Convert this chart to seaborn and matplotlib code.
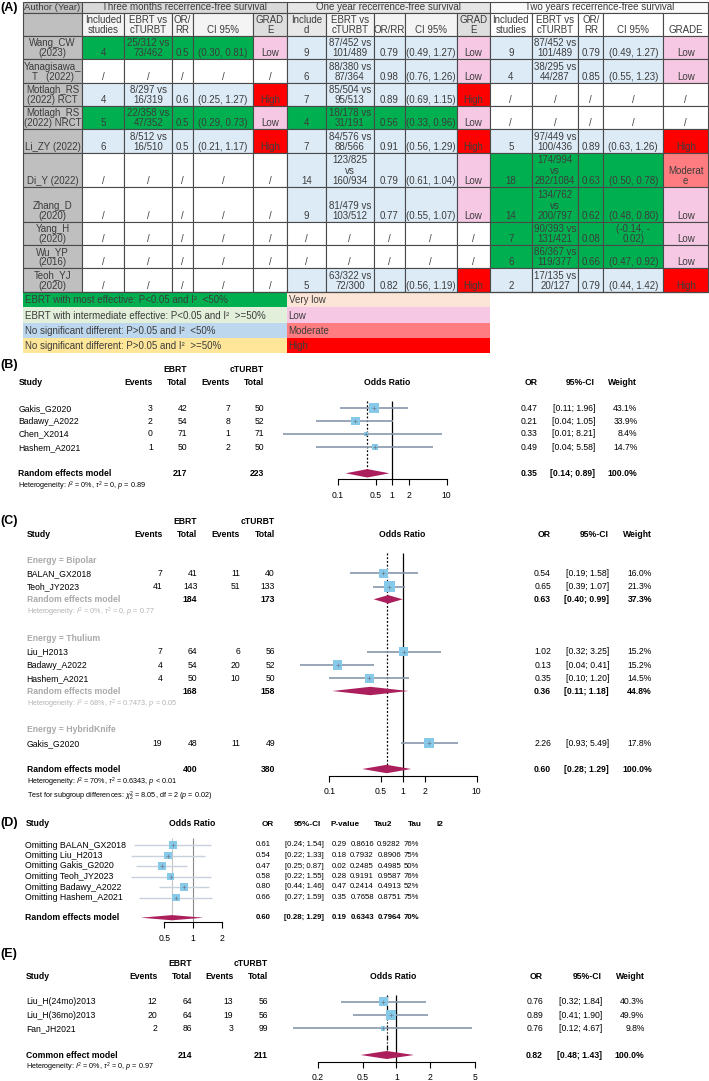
import numpy as np
import matplotlib
matplotlib.use("Agg")
import matplotlib.pyplot as plt
from matplotlib.patches import Rectangle
from matplotlib.ticker import FixedLocator, FixedFormatter, NullLocator
import seaborn as sns
import pandas as pd

# ======================= DATA : table (A) =======================
authors = ["Wang_CW\n(2023)", "Yanagisawa_\nT   (2022)", "Motlagh_RS\n(2022) RCT",
           "Motlagh_RS\n(2022) NRCT", "Li_ZY (2022)", "Di_Y (2022)", "Zhang_D\n(2020)",
           "Yang_H\n(2020)", "Wu_YP\n(2016)", "Teoh_YJ\n(2020)"]
periods = ["Three months recerrence-free survival", "One year recerrence-free survival",
           "Two years recerrence-free survival"]

m3_n = ["4", "/", "4", "5", "6", "/", "/", "/", "/", "/"]
m3_ev = ["25/312 vs\n73/462", "/", "8/297 vs\n16/319", "22/358 vs\n47/352", "8/512 vs\n16/510",
         "/", "/", "/", "/", "/"]
m3_or = ["0.5", "/", "0.6", "0.5", "0.5", "/", "/", "/", "/", "/"]
m3_ci = ["(0.30, 0.81)", "/", "(0.25, 1.27)", "(0.29, 0.73)", "(0.21, 1.17)", "/", "/", "/", "/", "/"]
m3_grade = ["Low", "/", "High", "Low", "High", "/", "/", "/", "/", "/"]
m3_cls = ["G", "W", "B", "G", "B", "W", "W", "W", "W", "W"]

y1_n = ["9", "6", "7", "4", "7", "14", "9", "/", "/", "5"]
y1_ev = ["87/452 vs\n101/489", "88/380 vs\n87/364", "85/504 vs\n95/513", "18/178 vs\n31/191",
         "84/576 vs\n88/566", "123/825\nvs\n160/934", "81/479 vs\n103/512", "/", "/", "63/322 vs\n72/300"]
y1_or = ["0.79", "0.98", "0.89", "0.56", "0.91", "0.79", "0.77", "/", "/", "0.82"]
y1_ci = ["(0.49, 1.27)", "(0.76, 1.26)", "(0.69, 1.15)", "(0.33, 0.96)", "(0.56, 1.29)",
         "(0.61, 1.04)", "(0.55, 1.07)", "/", "/", "(0.56, 1.19)"]
y1_grade = ["Low", "Low", "High", "Low", "High", "Low", "Low", "/", "/", "High"]
y1_cls = ["B", "B", "B", "G", "B", "B", "B", "W", "W", "B"]

y2_n = ["9", "4", "/", "/", "5", "18", "14", "7", "6", "2"]
y2_ev = ["87/452 vs\n101/489", "38/295 vs\n44/287", "/", "/", "97/449 vs\n100/436",
         "174/994\nvs\n282/1084", "134/762\nvs\n200/797", "90/393 vs\n131/421", "86/367 vs\n119/377",
         "17/135 vs\n20/127"]
y2_or = ["0.79", "0.85", "/", "/", "0.89", "0.63", "0.62", "0.08", "0.66", "0.79"]
y2_ci = ["(0.49, 1.27)", "(0.55, 1.23)", "/", "/", "(0.63, 1.26)", "(0.50, 0.78)", "(0.48, 0.80)",
         "(-0.14, -\n0.02)", "(0.47, 0.92)", "(0.44, 1.42)"]
y2_grade = ["Low", "Low", "/", "/", "High", "Moderat\ne", "Low", "Low", "Low", "High"]
y2_cls = ["B", "B", "W", "W", "B", "G", "G", "G", "G", "B"]

legend_left = ["EBRT with most effective: P<0.05 and I²  <50%",
               "EBRT with intermediate effective: P<0.05 and I²  >=50%",
               "No significant different: P>0.05 and I²  <50%",
               "No significant different: P>0.05 and I²  >=50%"]
legend_right = ["Very low", "Low", "Moderate", "High"]

# ======================= DATA : forest (B) =======================
b_study = ["Gakis_G2020", "Badawy_A2022", "Chen_X2014", "Hashem_A2021"]
b_ev_e = [3, 2, 0, 1]
b_tot_e = [42, 54, 71, 50]
b_ev_c = [7, 8, 1, 2]
b_tot_c = [50, 52, 71, 50]
b_or = [0.47, 0.21, 0.33, 0.49]
b_lo = [0.11, 0.04, 0.01, 0.04]
b_hi = [1.96, 1.05, 8.21, 5.58]
b_w = [43.1, 33.9, 8.4, 14.7]
b_pool = [0.35, 0.14, 0.89]
b_totals = [217, 223]
b_het = r"Heterogeneity: $I^2$ = 0%, $\tau^2$ = 0, $p$ = 0.89"

# ======================= DATA : forest (C) =======================
c_groups = ["Bipolar", "Thulium", "HybridKnife"]
c_group = ["Bipolar", "Bipolar", "Thulium", "Thulium", "Thulium", "HybridKnife"]
c_study = ["BALAN_GX2018", "Teoh_JY2023", "Liu_H2013", "Badawy_A2022", "Hashem_A2021", "Gakis_G2020"]
c_ev_e = [7, 41, 7, 4, 4, 19]
c_tot_e = [41, 143, 64, 54, 50, 48]
c_ev_c = [11, 51, 6, 20, 10, 11]
c_tot_c = [40, 133, 56, 52, 50, 49]
c_or = [0.54, 0.65, 1.02, 0.13, 0.35, 2.26]
c_lo = [0.19, 0.39, 0.32, 0.04, 0.10, 0.93]
c_hi = [1.58, 1.07, 3.25, 0.41, 1.20, 5.49]
c_w = [16.0, 21.3, 15.2, 15.2, 14.5, 17.8]
c_sub_or = [0.63, 0.36]
c_sub_lo = [0.40, 0.11]
c_sub_hi = [0.99, 1.18]
c_sub_w = [37.3, 44.8]
c_sub_tot_e = [184, 168]
c_sub_tot_c = [173, 158]
c_sub_het = [r"Heterogeneity: $I^2$ = 0%, $\tau^2$ = 0, $p$ = 0.77",
             r"Heterogeneity: $I^2$ = 68%, $\tau^2$ = 0.7473, $p$ = 0.05"]
c_pool = [0.60, 0.28, 1.29]
c_totals = [400, 380]
c_het = r"Heterogeneity: $I^2$ = 70%, $\tau^2$ = 0.6343, $p$ < 0.01"
c_test = r"Test for subgroup differences: $\chi^2_2$ = 8.05, df = 2 ($p$ = 0.02)"

# ======================= DATA : forest (D) =======================
d_study = ["Omitting BALAN_GX2018", "Omitting Liu_H2013", "Omitting Gakis_G2020",
           "Omitting Teoh_JY2023", "Omitting Badawy_A2022", "Omitting Hashem_A2021"]
d_or = [0.61, 0.54, 0.47, 0.58, 0.80, 0.66]
d_lo = [0.24, 0.22, 0.25, 0.22, 0.44, 0.27]
d_hi = [1.54, 1.33, 0.87, 1.55, 1.46, 1.59]
d_p = [0.29, 0.18, 0.02, 0.28, 0.47, 0.35]
d_tau2 = [0.8616, 0.7932, 0.2485, 0.9191, 0.2414, 0.7658]
d_tau = [0.9282, 0.8906, 0.4985, 0.9587, 0.4913, 0.8751]
d_i2 = [76, 75, 50, 76, 52, 75]
d_pool = [0.60, 0.28, 1.29, 0.19, 0.6343, 0.7964, 70]

# ======================= DATA : forest (E) =======================
e_study = ["Liu_H(24mo)2013", "Liu_H(36mo)2013", "Fan_JH2021"]
e_ev_e = [12, 20, 2]
e_tot_e = [64, 64, 86]
e_ev_c = [13, 19, 3]
e_tot_c = [56, 56, 99]
e_or = [0.76, 0.89, 0.76]
e_lo = [0.32, 0.41, 0.12]
e_hi = [1.84, 1.90, 4.67]
e_w = [40.3, 49.9, 9.8]
e_pool = [0.82, 0.48, 1.43]
e_totals = [214, 211]
e_het = r"Heterogeneity: $I^2$ = 0%, $\tau^2$ = 0, $p$ = 0.97"

# ======================= STYLE =======================
sns.set_theme(style="white")
plt.rcParams['font.family'] = ['Liberation Sans', 'DejaVu Sans']
plt.rcParams['mathtext.fontset'] = 'custom'
plt.rcParams['mathtext.rm'] = 'Liberation Sans'
plt.rcParams['mathtext.it'] = 'Liberation Sans:italic'
plt.rcParams['mathtext.bf'] = 'Liberation Sans:bold'

W, H = 709, 1081
fig = plt.figure(figsize=(W / 100, H / 100), dpi=100)
bg = fig.add_axes([0, 0, 1, 1])
bg.set_xlim(0, W)
bg.set_ylim(H, 0)
bg.axis('off')

TXT = '#3c3c3c'
EDGE = '#4a4a4a'
CLS = {"G": "#00b050", "B": "#ddebf7", "W": "white"}
GRC = {"Low": "#f6c8e4", "High": "#ff0000", "Moderat\ne": "#ff7c80", "/": "white"}
SQ = '#86c9e9'
CIL = '#8797ab'
DIA = '#ab1f5c'
FS = 6.2
HS = 5.2


def t(x, y, s, ha='left', va='center', size=FS, weight='normal', color='black', **kw):
    bg.text(x, y, s, ha=ha, va=va, fontsize=size, fontweight=weight, color=color, **kw)


def cell(x0, x1, y0, y1, text, fc, edge=True, size=7.0, ha='center'):
    bg.add_patch(Rectangle((x0, y0), x1 - x0, y1 - y0, facecolor=fc,
                           edgecolor=EDGE if edge else 'none', lw=0.8))
    if text:
        tx = (x0 + x1) / 2 if ha == 'center' else x0 + 1.5
        bg.text(tx, y1 - 1.0, text, ha=ha, va='bottom', multialignment='center',
                fontsize=size, color=TXT, linespacing=1.02)


# ======================= TABLE (A) =======================
cx = [22.7, 82.3, 124.3, 172, 192.7, 253.3, 286.7, 325.7, 374, 405, 456.7, 490,
      531.7, 578.3, 603.3, 663.3, 708.3]
ry = [1.7, 12.7, 36, 59.3, 82.7, 106, 129.3, 152.7, 186.7, 221.7, 245, 268.3, 291.7]
ly = [291.7, 307.3, 323.3, 337.7, 353.3]

# header row 1
cell(cx[0], cx[1], ry[0], ry[1], "Author (Year)", '#bfbfbf', size=6.8)
cell(cx[1], cx[6], ry[0], ry[1], periods[0], '#d9d9d9')
cell(cx[6], cx[11], ry[0], ry[1], periods[1], '#e6e6e6')
cell(cx[11], cx[16], ry[0], ry[1], periods[2], '#fafafa')
# header row 2
sub_h = [["Included\nstudies", "EBRT vs\ncTURBT", "OR/\nRR", "CI 95%", "GRAD\nE"],
         ["Include\nd", "EBRT vs\ncTURBT", "OR/RR", "CI 95%", "GRAD\nE"],
         ["Included\nstudies", "EBRT vs\ncTURBT", "OR/\nRR", "CI 95%", "GRADE"]]
sub_c = [['#f4f4f4', '#f4f4f4', '#f4f4f4', '#f4f4f4', '#dedede'],
         ['#e8e8e8', '#f4f4f4', '#f4f4f4', '#f4f4f4', '#dedede'],
         ['white', 'white', 'white', 'white', 'white']]
cell(cx[0], cx[1], ry[1], ry[2], "", '#bfbfbf')
for p in range(3):
    for k in range(5):
        ci = 1 + p * 5 + k
        cell(cx[ci], cx[ci + 1], ry[1], ry[2], sub_h[p][k], sub_c[p][k])

blocks = [(m3_n, m3_ev, m3_or, m3_ci, m3_grade, m3_cls),
          (y1_n, y1_ev, y1_or, y1_ci, y1_grade, y1_cls),
          (y2_n, y2_ev, y2_or, y2_ci, y2_grade, y2_cls)]
for r in range(len(authors)):
    y0, y1 = ry[r + 2], ry[r + 3]
    cell(cx[0], cx[1], y0, y1, authors[r], '#bfbfbf')
    for p, (nn, ev, orr, cci, gr, cl) in enumerate(blocks):
        base = 1 + p * 5
        fc = CLS[cl[r]]
        vals = [nn[r], ev[r], orr[r], cci[r]]
        for k in range(4):
            cell(cx[base + k], cx[base + k + 1], y0, y1, vals[k], fc)
        cell(cx[base + 4], cx[base + 5], y0, y1, gr[r], GRC[gr[r]])

left_cols = ['#00b050', '#e2efda', '#bdd7ee', '#ffe699']
right_cols = ['#fce4d6', '#f6c8e4', '#ff7c80', '#ff0000']
for i in range(4):
    bg.add_patch(Rectangle((cx[0], ly[i]), cx[6] - cx[0], ly[i + 1] - ly[i], facecolor=left_cols[i], lw=0))
    bg.add_patch(Rectangle((cx[6], ly[i]), cx[11] - cx[6], ly[i + 1] - ly[i], facecolor=right_cols[i], lw=0))
    ym = (ly[i] + ly[i + 1]) / 2
    t(cx[0] + 2, ym + 0.5, legend_left[i], size=7.0, color=TXT)
    t(cx[6] + 2, ym + 0.5, legend_right[i], size=7.0, color=TXT)
bg.plot([cx[0], cx[16]], [ry[-1], ry[-1]], color=EDGE, lw=0.9)

# panel labels
for lab, yy in [("(A)", 8.5), ("(B)", 365), ("(C)", 520.7), ("(D)", 823.3), ("(E)", 954.3)]:
    t(0.5, yy, lab, size=9, weight='bold')


# ======================= forest helpers =======================
def forest_ax(x1, ppd, lo, hi, ytop, axis_y, ticks, labels):
    left = x1 + ppd * np.log10(lo)
    right = x1 + ppd * np.log10(hi)
    ybot = axis_y + 1
    ax = fig.add_axes([left / W, 1 - ybot / H, (right - left) / W, (ybot - ytop) / H])
    ax.set_xscale('log')
    ax.set_xlim(lo, hi)
    ax.set_ylim(ybot, ytop)
    ax.patch.set_visible(False)
    for s in ['top', 'left', 'right']:
        ax.spines[s].set_visible(False)
    sp = ax.spines['bottom']
    sp.set_position(('data', axis_y))
    sp.set_bounds(ticks[0], ticks[-1])
    sp.set_linewidth(0.8)
    sp.set_color('black')
    ax.xaxis.set_major_locator(FixedLocator(ticks))
    ax.xaxis.set_major_formatter(FixedFormatter(labels))
    ax.xaxis.set_minor_locator(NullLocator())
    ax.tick_params(axis='x', direction='out', length=4, width=0.8, pad=4.2,
                   labelsize=FS, colors='black', bottom=True)
    ax.set_yticks([])
    return ax


def draw_studies(ax, ors, los, his, ys, sides_px, line_col=CIL, lw=1.2):
    ax.hlines(ys, los, his, color=line_col, lw=lw, zorder=2, clip_on=False)
    df = pd.DataFrame({"OR": ors, "row": ys})
    sizes = (np.asarray(sides_px) * 0.72) ** 2
    sns.scatterplot(data=df, x="OR", y="row", s=sizes, marker='s', color=SQ, linewidth=0,
                    ax=ax, legend=False, zorder=3, clip_on=False)
    ax.scatter(ors, ys, marker='+', s=5, c='#6d7d92', linewidths=0.5, zorder=4, clip_on=False)
    ax.set_xlabel('')
    ax.set_ylabel('')


def diamond(ax, est, lo, hi, y, h):
    ax.fill([lo, est, hi, est], [y, y - h, y, y + h], color=DIA, lw=0, zorder=3, clip_on=False)


def ci_str(lo, hi):
    return f"[{lo:.2f}; {hi:.2f}]"


# ======================= (B) =======================
bx = dict(study=18.3, ev_e=152.7, tot_e=187.3, ev_c=230, tot_c=264, orr=537.3, ci=595, w=637.3)
b_y = [408.3, 421, 434, 447.3]
t(bx['tot_e'], 369.3, "EBRT", ha='right', weight='bold')
t(bx['tot_c'], 369.3, "cTURBT", ha='right', weight='bold')
t(bx['study'], 382.7, "Study", weight='bold')
for k, lab in [('ev_e', 'Events'), ('tot_e', 'Total'), ('ev_c', 'Events'), ('tot_c', 'Total'),
               ('orr', 'OR'), ('ci', '95%-CI'), ('w', 'Weight')]:
    t(bx[k], 382.7, lab, ha='right', weight='bold')
t(386.7, 382.7, "Odds Ratio", ha='center', weight='bold')
for i in range(len(b_study)):
    y = b_y[i]
    t(bx['study'], y, b_study[i])
    t(bx['ev_e'], y, str(b_ev_e[i]), ha='right')
    t(bx['tot_e'], y, str(b_tot_e[i]), ha='right')
    t(bx['ev_c'], y, str(b_ev_c[i]), ha='right')
    t(bx['tot_c'], y, str(b_tot_c[i]), ha='right')
    t(bx['orr'], y, f"{b_or[i]:.2f}", ha='right')
    t(bx['ci'], y, ci_str(b_lo[i], b_hi[i]), ha='right')
    t(bx['w'], y, f"{b_w[i]:.1f}%", ha='right')
t(bx['study'], 473.3, "Random effects model", weight='bold')
t(bx['tot_e'], 473.3, str(b_totals[0]), ha='right', weight='bold')
t(bx['tot_c'], 473.3, str(b_totals[1]), ha='right', weight='bold')
t(bx['orr'], 473.3, f"{b_pool[0]:.2f}", ha='right', weight='bold')
t(bx['ci'], 473.3, ci_str(b_pool[1], b_pool[2]), ha='right', weight='bold')
t(bx['w'], 473.3, "100.0%", ha='right', weight='bold')
t(bx['study'], 486.7, b_het, size=HS)

axB = forest_ax(392.2, 54.5, 0.008, 12, 395, 479.3, [0.1, 0.5, 1, 2, 10], ["0.1", "0.5", "1", "2", "10"])
axB.vlines(1, 400.7, 479.3, color='black', lw=0.9, zorder=1)
axB.vlines(b_pool[0], 400.7, 476, color='black', lw=0.9, linestyles=(0, (1.5, 1.5)), zorder=1)
draw_studies(axB, b_or, b_lo, b_hi, b_y, 1.523 * np.sqrt(b_w))
diamond(axB, b_pool[0], b_pool[1], b_pool[2], 473.3, 4.2)

# ======================= (C) =======================
cxp = dict(study=26.7, ev_e=162.3, tot_e=197.3, ev_c=240, tot_c=275, orr=551, ci=609, w=652)
c_gy = [560.7, 638.3, 730]
c_y = [573.3, 586.7, 651.7, 665, 678.3, 743.3]
c_sy = [599.3, 691]
c_hy = [612.7, 704]
GRAY = '#a9a9a9'
t(cxp['tot_e'], 521.7, "EBRT", ha='right', weight='bold')
t(cxp['tot_c'], 521.7, "cTURBT", ha='right', weight='bold')
t(cxp['study'], 534.3, "Study", weight='bold')
for k, lab in [('ev_e', 'Events'), ('tot_e', 'Total'), ('ev_c', 'Events'), ('tot_c', 'Total'),
               ('orr', 'OR'), ('ci', '95%-CI'), ('w', 'Weight')]:
    t(cxp[k], 534.3, lab, ha='right', weight='bold')
t(402.3, 534.3, "Odds Ratio", ha='center', weight='bold')
for g, gname in enumerate(c_groups):
    t(cxp['study'], c_gy[g], f"Energy = {gname}", weight='bold', color=GRAY)
for i in range(len(c_study)):
    y = c_y[i]
    t(cxp['study'], y, c_study[i])
    t(cxp['ev_e'], y, str(c_ev_e[i]), ha='right')
    t(cxp['tot_e'], y, str(c_tot_e[i]), ha='right')
    t(cxp['ev_c'], y, str(c_ev_c[i]), ha='right')
    t(cxp['tot_c'], y, str(c_tot_c[i]), ha='right')
    t(cxp['orr'], y, f"{c_or[i]:.2f}", ha='right')
    t(cxp['ci'], y, ci_str(c_lo[i], c_hi[i]), ha='right')
    t(cxp['w'], y, f"{c_w[i]:.1f}%", ha='right')
for s in range(2):
    y = c_sy[s]
    t(cxp['study'], y, "Random effects model", weight='bold', color=GRAY)
    t(cxp['tot_e'], y, str(c_sub_tot_e[s]), ha='right', weight='bold')
    t(cxp['tot_c'], y, str(c_sub_tot_c[s]), ha='right', weight='bold')
    t(cxp['orr'], y, f"{c_sub_or[s]:.2f}", ha='right', weight='bold')
    t(cxp['ci'], y, ci_str(c_sub_lo[s], c_sub_hi[s]), ha='right', weight='bold')
    t(cxp['w'], y, f"{c_sub_w[s]:.1f}%", ha='right', weight='bold')
    t(cxp['study'], c_hy[s], c_sub_het[s], size=HS, color='#b3b3b3')
t(cxp['study'], 769, "Random effects model", weight='bold')
t(cxp['tot_e'], 769, str(c_totals[0]), ha='right', weight='bold')
t(cxp['tot_c'], 769, str(c_totals[1]), ha='right', weight='bold')
t(cxp['orr'], 769, f"{c_pool[0]:.2f}", ha='right', weight='bold')
t(cxp['ci'], 769, ci_str(c_pool[1], c_pool[2]), ha='right', weight='bold')
t(cxp['w'], 769, "100.0%", ha='right', weight='bold')
t(cxp['study'], 782.7, c_het, size=HS)
t(cxp['study'], 796, c_test, size=HS)

axC = forest_ax(403, 73.7, 0.03, 12, 548, 776, [0.1, 0.5, 1, 2, 10], ["0.1", "0.5", "1", "2", "10"])
axC.vlines(1, 553.3, 776, color='black', lw=0.9, zorder=1)
axC.vlines(c_pool[0], 553.3, 772, color='black', lw=0.9, linestyles=(0, (1.5, 1.5)), zorder=1)
draw_studies(axC, c_or, c_lo, c_hi, c_y, 2.32 * np.sqrt(c_w))
for s in range(2):
    diamond(axC, c_sub_or[s], c_sub_lo[s], c_sub_hi[s], c_sy[s], 4.2)
diamond(axC, c_pool[0], c_pool[1], c_pool[2], 769, 4.2)

# ======================= (D) =======================
dh = dict(orr=274, ci=321, p=360, tau2=392, tau=422, i2=443)
dv = dict(orr=271, ci=324, p=347, tau2=374, tau=401, i2=419)
d_y = [845, 855.5, 866, 876.5, 887, 897.5]
DFS = 5.6
t(26, 824, "Study", weight='bold')
t(192.3, 824, "Odds Ratio", ha='center', weight='bold')
for k, lab in [('orr', 'OR'), ('ci', '95%-CI'), ('p', 'P-value'), ('tau2', 'Tau2'), ('tau', 'Tau'), ('i2', 'I2')]:
    t(dh[k], 824, lab, ha='right', weight='bold', size=5.9)
for i in range(len(d_study)):
    y = d_y[i]
    t(25, y, d_study[i], size=6.3)
    t(dv['orr'], y, f"{d_or[i]:.2f}", ha='right', size=DFS)
    t(dv['ci'], y, ci_str(d_lo[i], d_hi[i]), ha='right', size=DFS)
    t(dv['p'], y, f"{d_p[i]:.2f}", ha='right', size=DFS)
    t(dv['tau2'], y, f"{d_tau2[i]:.4f}", ha='right', size=DFS)
    t(dv['tau'], y, f"{d_tau[i]:.4f}", ha='right', size=DFS)
    t(dv['i2'], y, f"{d_i2[i]}%", ha='right', size=DFS)
yp = 917.7
t(25, yp, "Random effects model", weight='bold', size=6.3)
t(dv['orr'], yp, f"{d_pool[0]:.2f}", ha='right', weight='bold', size=DFS)
t(dv['ci'], yp, ci_str(d_pool[1], d_pool[2]), ha='right', weight='bold', size=DFS)
t(dv['p'], yp, f"{d_pool[3]:.2f}", ha='right', weight='bold', size=DFS)
t(dv['tau2'], yp, f"{d_pool[4]:.4f}", ha='right', weight='bold', size=DFS)
t(dv['tau'], yp, f"{d_pool[5]:.4f}", ha='right', weight='bold', size=DFS)
t(dv['i2'], yp, f"{d_pool[6]}%", ha='right', weight='bold', size=DFS)

axD = forest_ax(193, 94.7, 0.2, 2.3, 834, 922.3, [0.5, 1, 2], ["0.5", "1", "2"])
axD.vlines(1, 838, 922.3, color='#8a8a8a', lw=0.8, zorder=1)
axD.vlines(d_pool[0], 838, 920, color='#c4c4c4', lw=0.8, zorder=1)
draw_studies(axD, d_or, d_lo, d_hi, d_y, np.full(len(d_or), 7.8), line_col='#c9d1dd', lw=1.0)
diamond(axD, d_pool[0], d_pool[1], d_pool[2], yp, 2.6)

# ======================= (E) =======================
ex = dict(study=26, ev_e=157.3, tot_e=192.3, ev_c=233.3, tot_c=267.7, orr=543, ci=602, w=644.5)
e_y = [1001.7, 1015, 1028.3]
t(ex['tot_e'], 963.3, "EBRT", ha='right', weight='bold')
t(ex['tot_c'], 963.3, "cTURBT", ha='right', weight='bold')
t(ex['study'], 976.7, "Study", weight='bold')
for k, lab in [('ev_e', 'Events'), ('tot_e', 'Total'), ('ev_c', 'Events'), ('tot_c', 'Total'),
               ('orr', 'OR'), ('ci', '95%-CI'), ('w', 'Weight')]:
    t(ex[k], 976.7, lab, ha='right', weight='bold')
t(393.5, 976.7, "Odds Ratio", ha='center', weight='bold')
for i in range(len(e_study)):
    y = e_y[i]
    t(ex['study'], y, e_study[i])
    t(ex['ev_e'], y, str(e_ev_e[i]), ha='right')
    t(ex['tot_e'], y, str(e_tot_e[i]), ha='right')
    t(ex['ev_c'], y, str(e_ev_c[i]), ha='right')
    t(ex['tot_c'], y, str(e_tot_c[i]), ha='right')
    t(ex['orr'], y, f"{e_or[i]:.2f}", ha='right')
    t(ex['ci'], y, ci_str(e_lo[i], e_hi[i]), ha='right')
    t(ex['w'], y, f"{e_w[i]:.1f}%", ha='right')
t(ex['study'], 1055, "Common effect model", weight='bold')
t(ex['tot_e'], 1055, str(e_totals[0]), ha='right', weight='bold')
t(ex['tot_c'], 1055, str(e_totals[1]), ha='right', weight='bold')
t(ex['orr'], 1055, f"{e_pool[0]:.2f}", ha='right', weight='bold')
t(ex['ci'], 1055, ci_str(e_pool[1], e_pool[2]), ha='right', weight='bold')
t(ex['w'], 1055, "100.0%", ha='right', weight='bold')
t(ex['study'], 1067.3, e_het, size=HS)

axE = forest_ax(396.5, 112.5, 0.1, 5.5, 990, 1061.7, [0.2, 0.5, 1, 2, 5], ["0.2", "0.5", "1", "2", "5"])
axE.vlines(1, 995, 1061.7, color='black', lw=0.9, zorder=1)
axE.vlines(e_pool[0], 995, 1051, color='black', lw=0.9, linestyles=(0, (4, 1.5, 1, 1.5)), zorder=1)
draw_studies(axE, e_or, e_lo, e_hi, e_y, 1.416 * np.sqrt(e_w))
diamond(axE, e_pool[0], e_pool[1], e_pool[2], 1055, 4.0)

fig.savefig("out.png", dpi=100)
